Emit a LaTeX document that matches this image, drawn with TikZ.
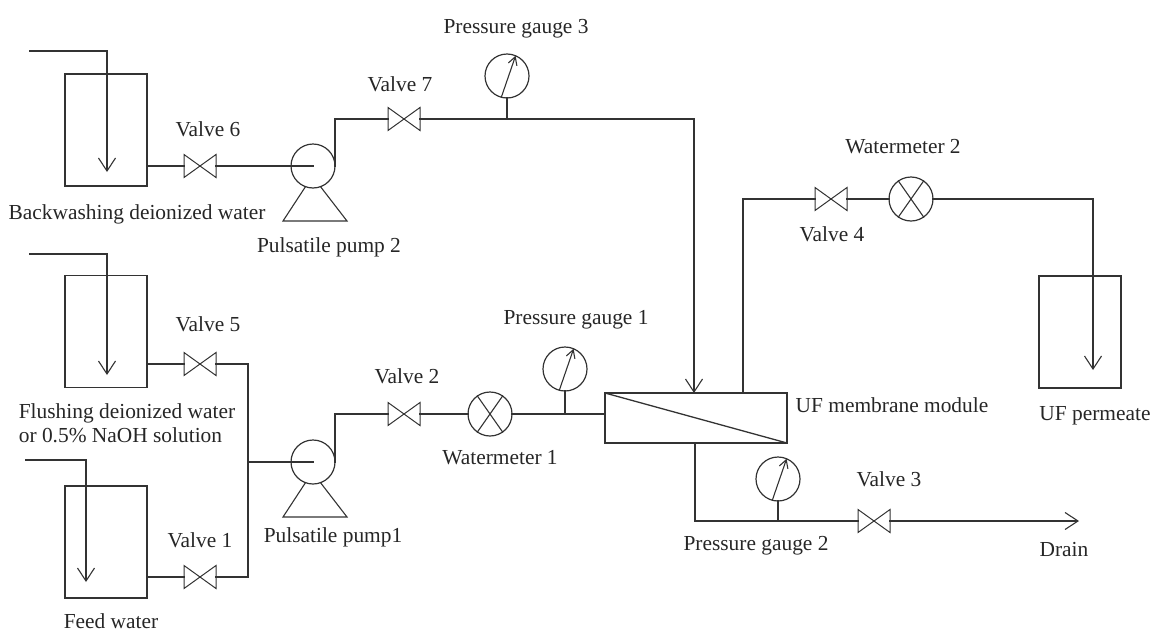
\documentclass[tikz,border=0pt]{standalone}
\usepackage{fontspec}
\setmainfont{Liberation Serif}
\usetikzlibrary{arrows.meta}
\tikzset{
    pipe/.style={line width=1.3pt, color=black!80},
    flow/.style={pipe, -{Straight Barb[length=13pt, width=17pt, line width=1.1pt]}},
    tag/.style={font=\fontsize{21.4}{23.5}\selectfont, text=black!85, inner sep=0pt, anchor=base},
    tank/.style={draw=black!80, line width=1.3pt, minimum width=82pt, minimum height=112pt, inner sep=0pt, outer sep=0pt},
    valve/.style={minimum width=32pt, minimum height=23pt, inner sep=0pt, outer sep=0pt,
        append after command={\pgfextra{\draw[pipe, line width=1pt] (\tikzlastnode.north west) -- (\tikzlastnode.south east) -- (\tikzlastnode.north east) -- (\tikzlastnode.south west) -- cycle;}}},
    dial/.style={circle, draw=black!80, line width=1.2pt, minimum size=44pt, inner sep=0pt, outer sep=0pt},
    meter/.style={dial,
        append after command={\pgfextra{\draw[pipe, line width=1.1pt] (\tikzlastnode.125) -- (\tikzlastnode.305) (\tikzlastnode.55) -- (\tikzlastnode.235);}}},
    gauge/.style={dial,
        append after command={\pgfextra{\draw[pipe, line width=1.1pt, -{Straight Barb[length=8pt, width=9pt]}] (\tikzlastnode.255) -- (\tikzlastnode.67);}}},
    pump/.style={dial,
        append after command={\pgfextra{\draw[pipe, line width=1.1pt] (\tikzlastnode.250) -- ([shift={(-30,55)}]\tikzlastnode.center) -- ([shift={(34,55)}]\tikzlastnode.center) -- (\tikzlastnode.290);}}}
}
\begin{document}
\begin{tikzpicture}[x=1pt, y=-1pt, line join=miter, line cap=rect]
        \useasboundingbox (0, 0) rectangle (1151, 632);

        \node[tank] (tankBack) at (106, 130) {};
        \node[tank] (tankFlush) at (106, 331.5) {};
        \node[tank] (tankFeed) at (106, 542) {};
        \node[tank] (tankUF) at (1080, 332) {};
        \node[draw=black!80, line width=1.3pt, minimum width=182pt, minimum height=50pt, inner sep=0pt, outer sep=0pt] (module) at (696, 418) {};

        \node[valve] (valve1) at (200, 577) {};
        \node[valve] (valve2) at (404, 414) {};
        \node[valve] (valve3) at (874, 521) {};
        \node[valve] (valve4) at (831, 199) {};
        \node[valve] (valve5) at (200, 364) {};
        \node[valve] (valve6) at (200, 166) {};
        \node[valve] (valve7) at (404, 119) {};

        \node[pump] (pump1) at (313, 462) {};
        \node[pump] (pump2) at (313, 166) {};
        \node[meter] (meter1) at (490, 414) {};
        \node[meter] (meter2) at (911, 199) {};
        \node[gauge] (gauge1) at (565, 369) {};
        \node[gauge] (gauge2) at (778, 479) {};
        \node[gauge] (gauge3) at (507, 76) {};

        \coordinate (inBack) at (30, 51);
        \coordinate (tipBack) at (107, 172);
        \coordinate (inFlush) at (30, 254);
        \coordinate (tipFlush) at (107, 375);
        \coordinate (inFeed) at (26, 460);
        \coordinate (tipFeed) at (86, 582);
        \coordinate (tipUF) at (1093, 370);
        \coordinate (joinTop) at (248, 364);
        \coordinate (joinBottom) at (248, 577);
        \coordinate (modIn) at (694, 393);
        \coordinate (modOut) at (743, 393);
        \coordinate (modDrain) at (695, 443);
        \coordinate (drainEnd) at (1079, 521);

        \draw[flow] (inBack) -| (tipBack);
        \draw[flow] (inFlush) -| (tipFlush);
        \draw[flow] (inFeed) -| (tipFeed);
        \draw[flow] (meter2.east) -| (tipUF);
        \draw[flow] (valve7.east) -| (modIn);
        \draw[flow] (valve3.east) -- (drainEnd);

        \draw[pipe] (tankBack.east |- valve6.west) -- (valve6.west);
        \draw[pipe] (valve6.east) -- (pump2.center);
        \draw[pipe] (pump2.east) |- (valve7.west);
        \draw[pipe] (tankFlush.east |- valve5.west) -- (valve5.west);
        \draw[pipe] (tankFeed.east |- valve1.west) -- (valve1.west);
        \draw[pipe] (valve5.east) -- (joinTop) -- (joinBottom) -- (valve1.east);
        \draw[pipe] (joinTop |- pump1.center) -- (pump1.center);
        \draw[pipe] (pump1.east) |- (valve2.west);
        \draw[pipe] (valve2.east) -- (meter1.west);
        \draw[pipe] (meter1.east) -- (module.west |- meter1.east);
        \draw[pipe] (gauge1.south) -- (gauge1.south |- meter1.east);
        \draw[pipe] (gauge3.south) -- (gauge3.south |- valve7.east);
        \draw[pipe] (module.north west) -- (module.south east);
        \draw[pipe] (modOut) |- (valve4.west);
        \draw[pipe] (valve4.east) -- (meter2.west);
        \draw[pipe] (modDrain) |- (valve3.west);
        \draw[pipe] (gauge2.south) -- (gauge2.south |- valve3.west);

        \node[tag] (nameGauge3) at (516, 33) {Pressure gauge 3};
        \node[tag] (nameValve7) at (400, 91) {Valve 7};
        \node[tag] (nameValve6) at (208, 136) {Valve 6};
        \node[tag] (nameBack) at (137, 219) {Backwashing deionized water};
        \node[tag] (namePump2) at (329, 252) {Pulsatile pump 2};
        \node[tag] (nameWater2) at (903, 153) {Watermeter 2};
        \node[tag] (nameValve4) at (832, 241) {Valve 4};
        \node[tag] (nameValve5) at (208, 331) {Valve 5};
        \node[tag, anchor=center, align=left] (nameFlush) at (127, 423) {Flushing deionized water\\or 0.5\% NaOH solution};
        \node[tag] (nameGauge1) at (576, 324) {Pressure gauge 1};
        \node[tag] (nameValve2) at (407, 383) {Valve 2};
        \node[tag] (nameWater1) at (500, 464) {Watermeter 1};
        \node[tag] (nameModule) at (892, 412) {UF membrane module};
        \node[tag] (namePermeate) at (1095, 420) {UF permeate};
        \node[tag] (nameValve1) at (200, 547) {Valve 1};
        \node[tag] (namePump1) at (333, 542) {Pulsatile pump1};
        \node[tag] (nameFeed) at (111, 628) {Feed water};
        \node[tag] (nameGauge2) at (756, 550) {Pressure gauge 2};
        \node[tag] (nameValve3) at (889, 486) {Valve 3};
        \node[tag] (nameDrain) at (1064, 556) {Drain};
    \end{tikzpicture}
\end{document}
